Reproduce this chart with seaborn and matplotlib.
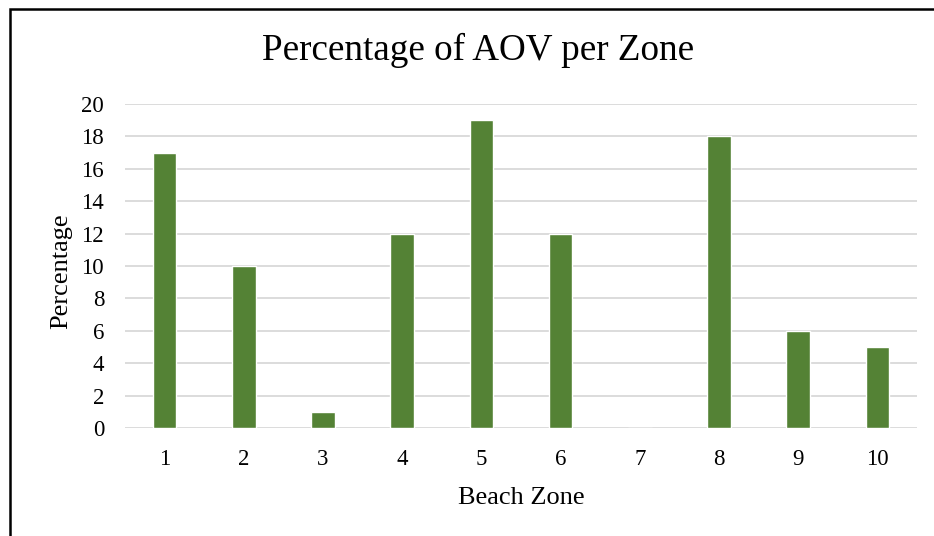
import pandas as pd
import matplotlib.pyplot as plt
import seaborn as sns
from matplotlib.patches import Rectangle

# Data
zones = ["1", "2", "3", "4", "5", "6", "7", "8", "9", "10"]
percentage = [17, 10, 1, 12, 19, 12, 0, 18, 6, 5]

df = pd.DataFrame({"Zone": zones, "Percentage": percentage})

sns.set_style("white")
plt.rcParams["font.family"] = ["Liberation Serif", "DejaVu Serif"]
plt.rcParams["text.color"] = "black"

fig = plt.figure(figsize=(9.34, 5.36), dpi=100)
ax = fig.add_axes([0.1338, 0.2015, 0.848, 0.6045])

sns.barplot(data=df, x="Zone", y="Percentage", order=zones, color="#548235",
            width=0.3, saturation=1, ax=ax, zorder=3)

ax.set_ylim(0, 20)
ax.set_xlim(-0.5, 9.5)
ax.set_yticks(range(0, 21, 2))
ax.yaxis.grid(True, color="#d9d9d9", linewidth=1.3, zorder=0)
ax.set_axisbelow(True)
for s in ax.spines.values():
    s.set_visible(False)
ax.tick_params(axis="both", length=0, labelsize=16.5, colors="black")
ax.tick_params(axis="y", pad=15)
ax.tick_params(axis="x", pad=15)

ax.set_xlabel("Beach Zone", fontsize=19, color="black", va="center")
ax.set_ylabel("Percentage", fontsize=19, color="black", va="center")
ax.xaxis.set_label_coords(0.5, -0.216)
ax.yaxis.set_label_coords(-0.081, 0.485)
fig.text(0.512, 0.905, "Percentage of AOV per Zone", fontsize=26.7,
         ha="center", va="center", color="black")

# outer chart frame (bottom and right edges fall outside the image)
fig.patches.append(Rectangle((0.0107, -0.05), 1.05, 1.033, transform=fig.transFigure,
                             fill=False, edgecolor="black", linewidth=1.8))

fig.savefig("out.png", dpi=100)
